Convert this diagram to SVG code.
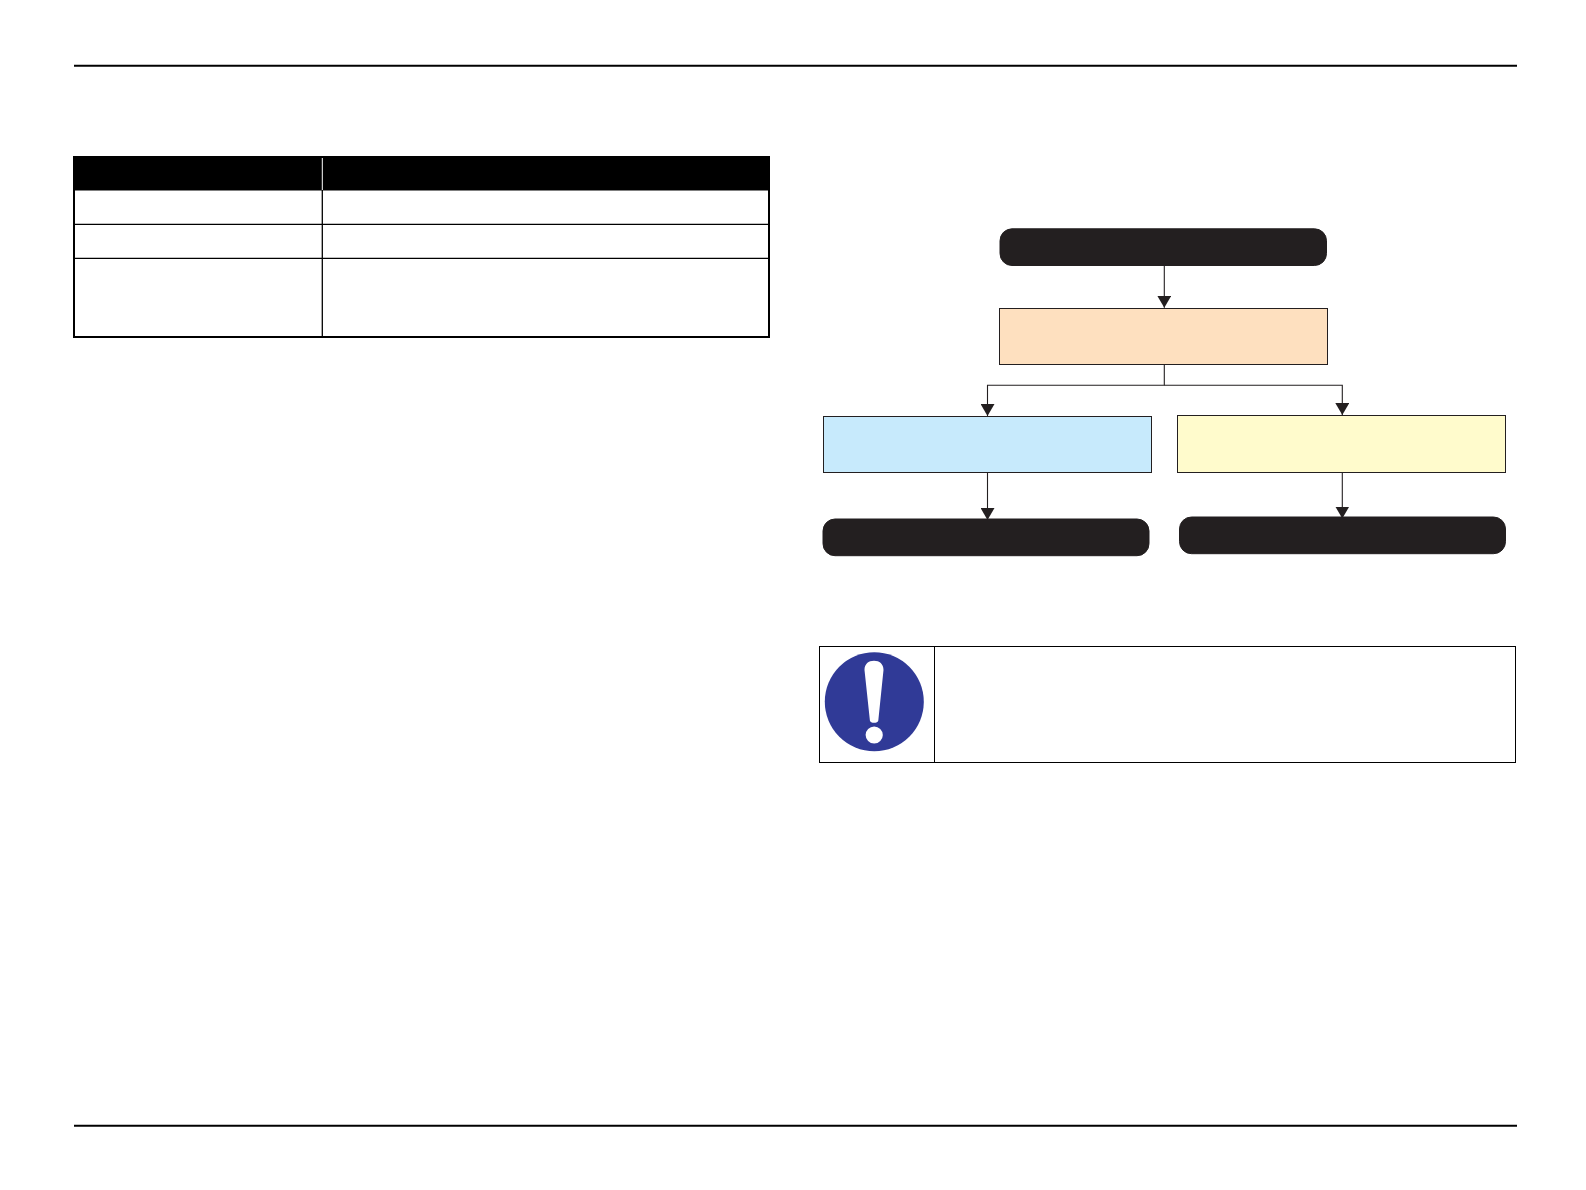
<svg xmlns="http://www.w3.org/2000/svg" width="1586" height="1190" viewBox="0 0 1586 1190">
<style>
.rule{stroke:#000;stroke-width:2;fill:none}
.grid{stroke:#000;stroke-width:1.3;fill:none}
.term{fill:#231f20;stroke:#231f20;stroke-width:1}
.box{stroke:#231f20;stroke-width:1}
.conn{stroke:#231f20;stroke-width:1.1;fill:none}
.call{stroke:#000;stroke-width:1;fill:none}
</style>
<defs>
<marker id="arrow" markerUnits="userSpaceOnUse" markerWidth="14" markerHeight="14" viewBox="0 0 14 14" refX="12" refY="7" orient="auto">
<path d="M0,0 L12,7 L0,14 Z" fill="#231f20"/>
</marker>
</defs>
<rect width="1586" height="1190" fill="#fff"/>
<g id="page-rules">
<line class="rule" x1="74" y1="65.8" x2="1517" y2="65.8"/>
<line class="rule" x1="74" y1="1125.8" x2="1517" y2="1125.8"/>
</g>
<g id="table">
<rect x="73" y="156" width="697" height="34.5" fill="#000"/>
<line x1="322.3" y1="158" x2="322.3" y2="190" stroke="#fff" stroke-width="1"/>
<line class="grid" x1="74" y1="224.3" x2="769" y2="224.3"/>
<line class="grid" x1="74" y1="258.3" x2="769" y2="258.3"/>
<line class="grid" x1="322.3" y1="190" x2="322.3" y2="337"/>
<rect x="74" y="157" width="695" height="180" fill="none" stroke="#000" stroke-width="2"/>
</g>
<g id="connectors">
<line class="conn" x1="1164.3" y1="265" x2="1164.3" y2="307.8" marker-end="url(#arrow)"/>
<path class="conn" d="M1164.3,364.5 V385.3 H987.5 V416" marker-end="url(#arrow)"/>
<path class="conn" d="M1164.3,385.3 H1342.3 V415" marker-end="url(#arrow)"/>
<line class="conn" x1="987.5" y1="472.5" x2="987.5" y2="520" marker-end="url(#arrow)"/>
<line class="conn" x1="1342.3" y1="472.5" x2="1342.3" y2="518.5" marker-end="url(#arrow)"/>
</g>
<g id="node-start"><rect class="term" x="1000" y="228.8" width="326.5" height="36.7" rx="12"/></g>
<g id="node-middle"><rect class="box" x="999.5" y="308.5" width="328" height="56" fill="#fee0bf"/></g>
<g id="node-left"><rect class="box" x="823.5" y="416.5" width="328" height="56" fill="#c7eafc"/></g>
<g id="node-right"><rect class="box" x="1177.5" y="415.5" width="328" height="57" fill="#fffbcc"/></g>
<g id="node-end-left"><rect class="term" x="823" y="519" width="326" height="36.7" rx="12"/></g>
<g id="node-end-right"><rect class="term" x="1179.5" y="517" width="326" height="36.7" rx="12"/></g>
<g id="callout">
<rect class="call" x="819.5" y="646.5" width="696" height="116"/>
<line class="call" x1="934.5" y1="646.5" x2="934.5" y2="762.5"/>
<circle cx="874.3" cy="701.7" r="49.5" fill="#303a97"/>
<path d="M864.5,670 C864.5,664 868.5,660.8 874,660.8 C879.5,660.8 883.5,664 883.5,670 L878.3,720.5 C878,723.6 870.2,723.6 869.9,720.5 Z" fill="#fff"/>
<circle cx="874.2" cy="735" r="8.6" fill="#fff"/>
</g>
</svg>
